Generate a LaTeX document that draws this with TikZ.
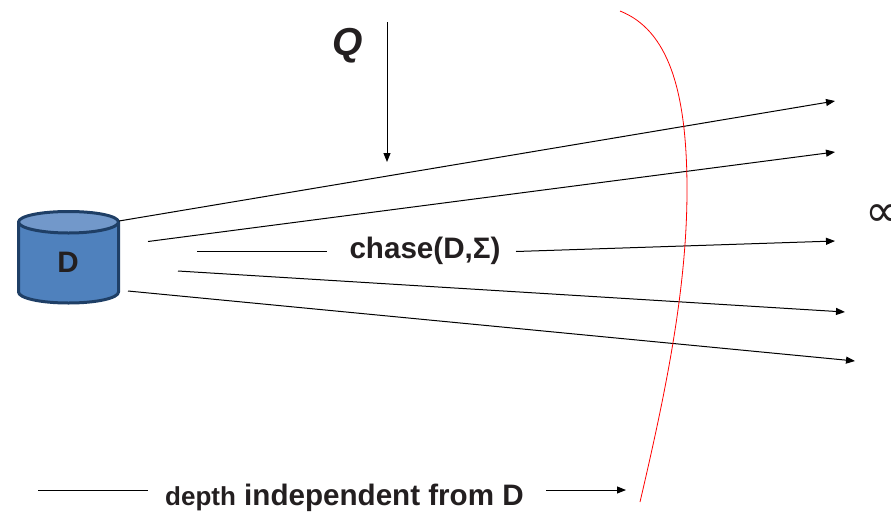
\documentclass[tikz,border=0pt]{standalone}
\usepackage{fontspec}
\setmainfont{Liberation Sans}
\newfontfamily\symfont{DejaVu Sans}
\usetikzlibrary{arrows.meta}
\definecolor{cylfill}{HTML}{4F81BD}
\definecolor{cyltop}{HTML}{7298CA}
\definecolor{cylline}{HTML}{1F3F66}
\definecolor{txt}{HTML}{231F20}
\tikzset{
  ray/.style={black,line width=1pt},
  arr/.style={ray,-{Triangle[length=9pt,width=7pt]}},
  lab/.style={inner sep=0pt,text=txt,font=\bfseries\fontsize{29.6}{32}\selectfont,anchor=base},
  cylb/.style={draw=cylline,line width=3pt,line join=round}
}
\begin{document}
\begin{tikzpicture}[x=1pt,y=-1pt]
\useasboundingbox (0,0) rectangle (891,512);
% cylinder
\path[cylb,fill=cylfill] (18.5,222) -- (18.5,292) .. controls (18.5,298) and (40,303) .. (68.5,303) .. controls (97,303) and (118.5,298) .. (118.5,292) -- (118.5,222) -- cycle;
\path[cylb,fill=cyltop] (68.5,211.5) .. controls (96,211.5) and (118.5,216) .. (118.5,222) .. controls (118.5,228) and (96,233) .. (68.5,233) .. controls (41,233) and (18.5,228) .. (18.5,222) .. controls (18.5,216) and (41,211.5) .. (68.5,211.5) -- cycle;
\node[lab] (d) at (68,272.5) {D};
% labels
\node[lab,font=\bfseries\itshape\fontsize{39}{42}\selectfont] (q) at (347.5,55) {Q};
\node[lab] (chase) at (425,258) {chase(D,Σ)};
\node[lab,anchor=base west] (dep) at (165,505) {{\fontsize{26}{28}\selectfont depth} independent from D};
\node[inner sep=0pt,anchor=base west,text=txt,font=\symfont\fontsize{45}{48}\selectfont] (inf) at (865,226) {∞};
% coordinates
\coordinate (qs) at (387,22); \coordinate (qe) at (387,162);
\coordinate (a1) at (119,221); \coordinate (b1) at (835,101);
\coordinate (a2) at (148,241.5); \coordinate (b2) at (835,152);
\coordinate (a3) at (197,251.5); \coordinate (a3m) at (327,251.5);
\coordinate (a3n) at (516,251.5); \coordinate (b3) at (835,241);
\coordinate (a4) at (178,271); \coordinate (b4) at (845,312);
\coordinate (a5) at (128,291); \coordinate (b5) at (855,361);
\coordinate (da) at (38,490); \coordinate (db) at (148,490);
\coordinate (dc) at (546,490); \coordinate (dd) at (626,490);
% connectors
\draw[arr] (qs) -- (qe);
\draw[arr] (a1) -- (b1);
\draw[arr] (a2) -- (b2);
\draw[ray] (a3) -- (a3m);
\draw[arr] (a3n) -- (b3);
\draw[arr] (a4) -- (b4);
\draw[arr] (a5) -- (b5);
\draw[ray] (da) -- (db);
\draw[arr] (dc) -- (dd);
% red curve
\draw[red,line width=0.8pt] (620,11) .. controls (668,30) and (687,90) .. (687,190) .. controls (687,290) and (665,395) .. (640,502);
\end{tikzpicture}
\end{document}
